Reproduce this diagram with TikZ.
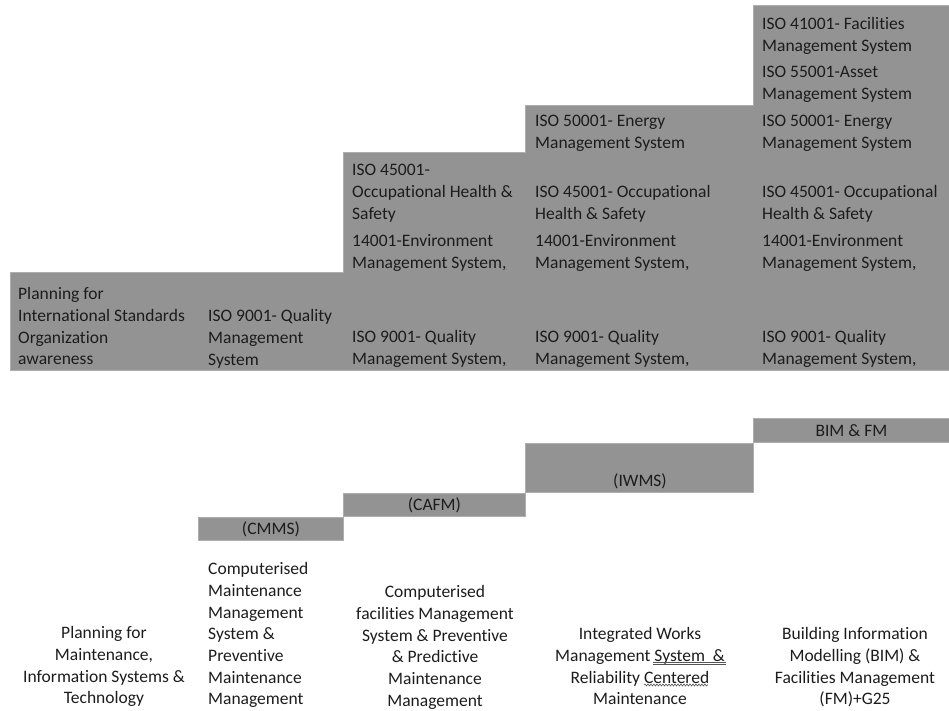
\documentclass[tikz,border=0pt]{standalone}
\usepackage{fontspec}
\setmainfont{Carlito}[Ligatures=CommonOff]
\usetikzlibrary{decorations.pathmorphing}
\definecolor{stepgray}{HTML}{939393}
\definecolor{ink}{HTML}{1C1C1C}
% fixed first-line height so every block starts on a known baseline
\newcommand{\lnTop}{\rule{0pt}{13pt}}

\begin{document}
\begin{tikzpicture}[x=1pt,y=-1pt,
  base/.style={font=\fontsize{17.5pt}{21.7pt}\selectfont, text=ink, inner sep=0pt},
  cell/.style={base, align=left, anchor=north west},
  note/.style={base, align=center, anchor=north},
  band/.style={fill=stepgray, draw=stepgray!75!white, line width=0.8pt},
  bar/.style={band, base, anchor=north west, minimum height=#1},
  proofmark/.style={draw=ink!75, line width=0.6pt}]

\useasboundingbox (0,0) rectangle (949,710);

% ---- upper staircase: ISO standards ----
\path[band] (10,272) -- (343,272) -- (343,152) -- (525,152) -- (525,105)
  -- (753,105) -- (753,5) -- (949,5) -- (949,370) -- (10,370) -- cycle;

\node[cell] (s1) at (18,286.5) {\lnTop Planning for\\International Standards\\Organization\\awareness};
\node[cell] (s2) at (208,308.5) {\lnTop ISO 9001- Quality\\Management\\System};

\node[cell] (s3a) at (352,162.5) {\lnTop ISO 45001-\\Occupational Health \&\\Safety};
\node[cell] (s3b) at (352,233.5) {\lnTop 14001-Environment\\Management System,};
\node[cell] (s3c) at (352,329.5) {\lnTop ISO 9001- Quality\\Management System,};

\node[cell] (s4a) at (535,113.5) {\lnTop ISO 50001- Energy\\Management System};
\node[cell] (s4b) at (535,184.5) {\lnTop ISO 45001- Occupational\\Health \& Safety};
\node[cell] (s4c) at (535,233.5) {\lnTop 14001-Environment\\Management System,};
\node[cell] (s4d) at (535,329.5) {\lnTop ISO 9001- Quality\\Management System,};

\node[cell] (s5a) at (762,16.5) {\lnTop ISO 41001- Facilities\\Management System};
\node[cell] (s5b) at (762,64.5) {\lnTop ISO 55001-Asset\\Management System};
\node[cell] (s5c) at (762,113.5) {\lnTop ISO 50001- Energy\\Management System};
\node[cell] (s5d) at (762,184.5) {\lnTop ISO 45001- Occupational\\Health \& Safety};
\node[cell] (s5e) at (762,233.5) {\lnTop 14001-Environment\\Management System,};
\node[cell] (s5f) at (762,329.5) {\lnTop ISO 9001- Quality\\Management System,};

% ---- lower staircase: maintenance systems ----
\node[bar=23pt, minimum width=145pt] (cmms) at (198,517) {(CMMS)};
\node[bar=23pt, minimum width=182pt] (cafm) at (343,493) {(CAFM)};
\node[bar=49pt, minimum width=228pt] (iwms) at (525,443) {};
\node[base] (iwmslbl) at (640,481) {(IWMS)};
\node[bar=24pt, minimum width=196pt] (bimfm) at (753,418) {BIM \& FM};

\node[note] (m1) at (104,625.5) {\lnTop Planning for\\Maintenance,\\Information Systems \&\\Technology};
\node[cell] (m2) at (208,561.5) {\lnTop Computerised\\Maintenance\\Management\\System \&\\Preventive\\Maintenance\\Management};
\node[note] (m3) at (435,584.5) {\lnTop Computerised\\facilities Management\\System \& Preventive\\\& Predictive\\Maintenance\\Management};
\node[note] (m4) at (640,626.5) {\lnTop Integrated Works\\Management System~~\&\\Reliability Centered\\Maintenance};
\node[note] (m5) at (855,626.5) {\lnTop Building Information\\Modelling (BIM) \&\\Facilities Management\\(FM)+G25};

% proofing marks under two words of the IWMS caption
\coordinate (dblA) at (653,662.5);
\coordinate (dblB) at (726,662.5);
\path[proofmark] (dblA) -- (dblB);
\path[proofmark] ([yshift=-2pt]dblA) -- ([yshift=-2pt]dblB);
\coordinate (wavA) at (644,685);
\coordinate (wavB) at (708,685);
\path[proofmark, decorate, decoration={snake, segment length=3pt, amplitude=1pt}] (wavA) -- (wavB);

\end{tikzpicture}
\end{document}
